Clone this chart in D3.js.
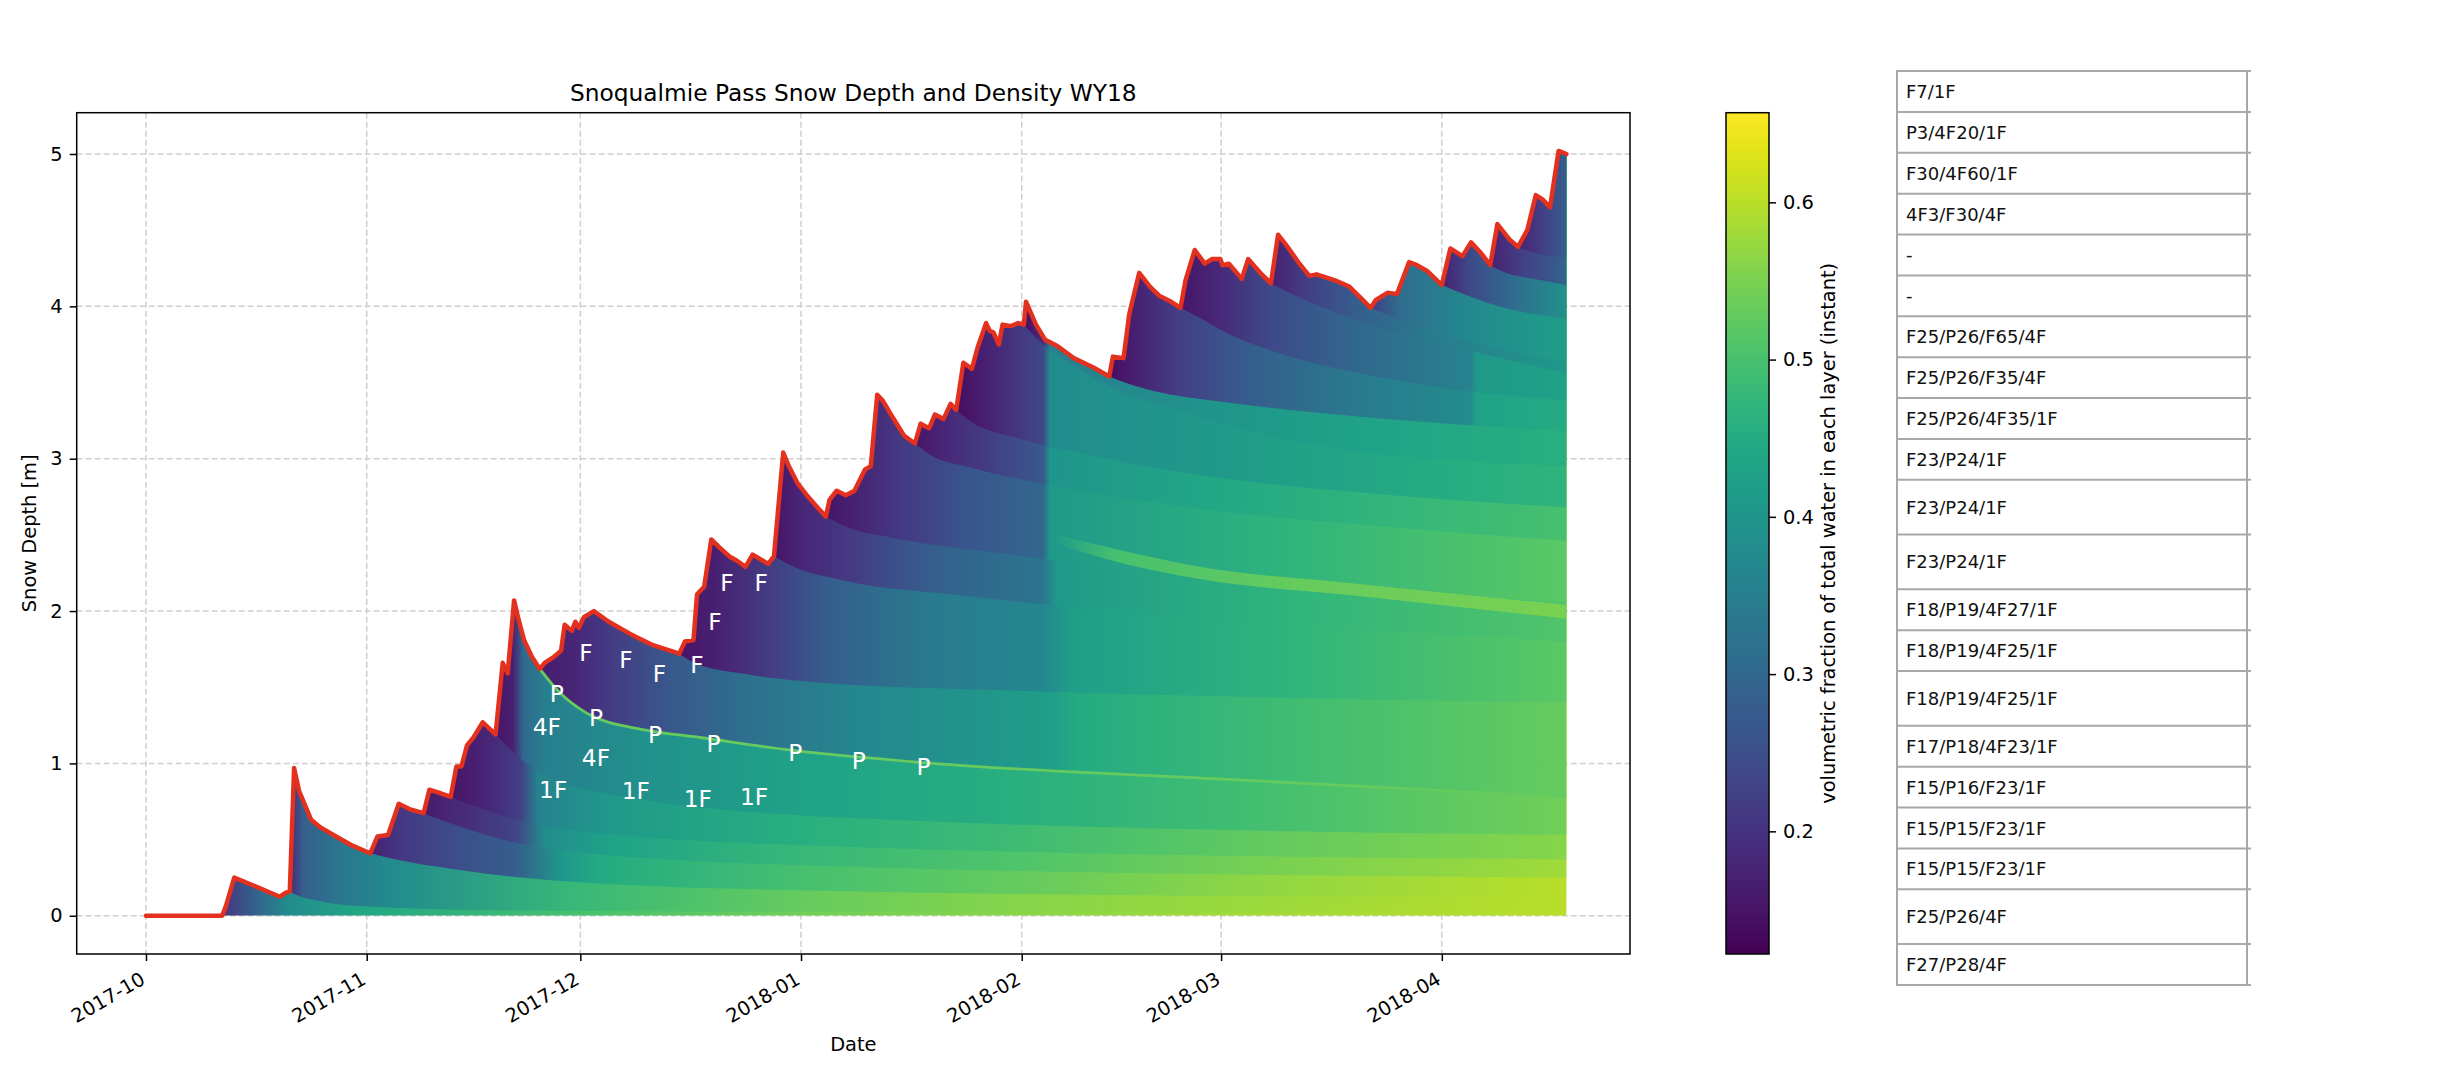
<!DOCTYPE html>
<html>
<head>
<meta charset="utf-8">
<script src="https://cdn.jsdelivr.net/npm/d3@7"></script>
<style>
  body { margin: 0; background: #fff; }
  svg { display: block; }
  text { font-family: "DejaVu Sans", sans-serif; }
</style>
</head>
<body>
<svg id="chart"></svg>
<script>
// ---- data (days since 2017-10-01, depth in m, water fraction) ----
var snowDepth = [[0,0],[10.7,0],[11.2,0.06],[12.4,0.25],[15,0.2],[18.8,0.125],[19.6,0.15],[20.2,0.16],[20.8,0.97],
  [21.5,0.82],[23.2,0.63],[24.5,0.58],[26.7,0.52],[29,0.46],[31.5,0.41],[32.5,0.52],[34,0.53],[35.5,0.735],[37,0.7],
  [39,0.674],[39.8,0.827],[41,0.81],[42.8,0.78],[43.6,0.98],[44.3,0.98],[45.1,1.12],[46,1.17],[47.3,1.27],[48.2,1.23],
  [49.1,1.19],[50.1,1.66],[50.8,1.59],[51.7,2.07],[52.3,1.95],[53.1,1.81],[54.2,1.7],[55.3,1.62],[56,1.66],[57.3,1.7],
  [58.3,1.74],[58.8,1.91],[59.8,1.87],[60.3,1.93],[60.8,1.89],[61.5,1.96],[62.9,2.0],[65,1.93],[68,1.85],[71,1.78],
  [74.9,1.72],[75.7,1.8],[76.9,1.81],[77.4,2.11],[78.4,2.16],[79.4,2.47],[80.5,2.42],[81.9,2.36],[83,2.33],[84.2,2.29],
  [85.2,2.37],[86.3,2.34],[87.4,2.31],[88.2,2.36],[89.5,3.04],[90.3,2.95],[91.5,2.84],[93,2.75],[94.5,2.67],[95.5,2.62],
  [96,2.73],[97,2.79],[98.3,2.76],[99.5,2.79],[101,2.93],[101.8,2.95],[102.7,3.42],[103.5,3.38],[104.5,3.3],[106.5,3.15],
  [108,3.1],[108.8,3.23],[110,3.2],[110.8,3.29],[112,3.26],[113,3.36],[113.8,3.32],[114.8,3.63],[116,3.59],[116.8,3.73],
  [118,3.89],[118.5,3.84],[119,3.83],[119.8,3.75],[120.3,3.88],[121.5,3.87],[122.5,3.89],[123.3,3.88],[123.6,4.03],
  [125,3.88],[126.3,3.78],[128,3.74],[130.3,3.66],[133,3.6],[135.3,3.54],[135.8,3.67],[137.3,3.66],[138.1,3.95],
  [139.5,4.22],[141,4.13],[142.3,4.07],[144,4.03],[145.3,3.99],[146,4.17],[147.3,4.37],[148.7,4.28],[149.7,4.31],
  [150.9,4.31],[151.2,4.27],[152.1,4.28],[153.9,4.18],[154.8,4.31],[156.5,4.22],[158,4.15],[159,4.47],[160.5,4.38],
  [162,4.28],[163.4,4.2],[164.4,4.21],[167,4.17],[169,4.13],[170.5,4.06],[172,3.99],[172.7,4.04],[174.4,4.09],
  [175.7,4.08],[177.4,4.29],[178.5,4.27],[180,4.23],[182,4.14],[183.2,4.38],[184.9,4.33],[186.1,4.42],[187.5,4.35],
  [188.8,4.27],[189.8,4.54],[191.5,4.44],[192.7,4.39],[194,4.5],[195.2,4.73],[196.2,4.7],[197.2,4.65],[198.4,5.02],[199.5,5.0]];

// layer base heights (old snow surfaces) and their water fraction through time
var baseGround = [[10.7,0],[199.5,0]];
var fracGround = [[10.7,0.2],[16,0.3],[20,0.38],[30,0.44],[60,0.5],[92,0.54],[150,0.58],[199.5,0.6]];
var baseOct20 = [[20.2,0.16],[21,0.14],[24,0.1],[31,0.06],[50,0.035],[100,0.025],[199.5,0.02]];
var fracOct20 = [[20.2,0.18],[22,0.28],[27,0.33],[35,0.38],[60,0.48],[92,0.53],[123,0.56],[199.5,0.6]];
var baseOct31 = [[31.5,0.41],[34,0.38],[44,0.3],[64,0.21],[100,0.16],[150,0.13],[199.5,0.12]];
var fracOct31 = [[31.5,0.17],[36,0.21],[44,0.25],[52,0.28],[58,0.4],[64,0.45],[92,0.5],[123,0.53],[160,0.57],[199.5,0.6]];
var baseNov8 = [[39,0.67],[42,0.62],[50,0.5],[60,0.42],[100,0.32],[199.5,0.25]];
var fracNov8 = [[39,0.16],[45,0.19],[52,0.23],[56,0.38],[65,0.43],[92,0.48],[123,0.51],[160,0.55],[199.5,0.58]];
var baseNov12 = [[42.8,0.78],[45,0.74],[50,0.66],[60,0.56],[100,0.45],[199.5,0.37]];
var fracNov12 = [[42.8,0.15],[48,0.18],[52.5,0.22],[55,0.36],[65,0.41],[92,0.46],[123,0.49],[160,0.53],[199.5,0.56]];
var baseNov18 = [[49.1,1.19],[51,1.1],[55,0.95],[65,0.8],[100,0.64],[199.5,0.53]];
var fracNov18 = [[49.1,0.15],[51.5,0.17],[53,0.3],[56,0.35],[70,0.39],[92,0.43],[123,0.46],[160,0.5],[199.5,0.54]];
var baseNov25 = [[55.3,1.62],[58,1.47],[61.9,1.33],[70,1.22],[77.8,1.17],[90,1.09],[110.5,1.0],[150,0.9],[199.5,0.78]];
var fracNov25 = [[55.3,0.16],[60,0.18],[66,0.22],[74,0.27],[85,0.32],[100,0.37],[127,0.42],[131,0.45],[160,0.49],[199.5,0.53]];
var baseDec15 = [[74.9,1.72],[77,1.66],[85,1.58],[95,1.53],[120,1.48],[160,1.43],[199.5,1.4]];
var fracDec15 = [[74.9,0.15],[80,0.17],[88,0.22],[96,0.28],[110,0.34],[126,0.37],[130,0.42],[160,0.47],[199.5,0.52]];
var baseDec28 = [[88.2,2.36],[91,2.29],[98,2.2],[115,2.1],[140,1.98],[170,1.88],[199.5,1.8]];
var fracDec28 = [[88.2,0.15],[92,0.18],[100,0.22],[110,0.28],[126,0.33],[128,0.41],[160,0.47],[199.5,0.51]];
var baseJan5 = [[95.5,2.62],[98,2.56],[105,2.48],[120,2.38],[140,2.26],[170,2.14],[199.5,2.06]];
var fracJan5 = [[95.5,0.15],[99,0.17],[106,0.21],[115,0.26],[126,0.3],[127,0.41],[160,0.47],[199.5,0.52]];
var baseJan18 = [[108,3.1],[110,3.03],[116,2.94],[130,2.8],[150,2.66],[175,2.55],[199.5,2.46]];
var fracJan18 = [[108,0.15],[112,0.18],[120,0.23],[126,0.27],[127,0.4],[150,0.44],[180,0.48],[199.5,0.5]];
var baseJan23 = [[113.8,3.32],[116,3.24],[122,3.14],[135,3.0],[150,2.88],[175,2.76],[199.5,2.68]];
var fracJan23 = [[113.8,0.14],[118,0.17],[124,0.22],[126,0.24],[127,0.38],[150,0.41],[180,0.45],[199.5,0.47]];
var baseFeb1 = [[123.3,3.88],[126,3.75],[130,3.62],[136,3.46],[146,3.3],[163,3.1],[199.5,2.95]];
var fracFeb1 = [[123.3,0.14],[126,0.19],[127,0.35],[136,0.37],[150,0.4],[170,0.43],[199.5,0.46]];
var baseFeb13 = [[135.3,3.54],[137.5,3.5],[142,3.44],[150,3.38],[165,3.3],[180,3.24],[199.5,3.18]];
var fracFeb13 = [[135.3,0.14],[139,0.17],[145,0.22],[155,0.28],[170,0.34],[186,0.38],[187,0.43],[199.5,0.45]];
var baseFeb23 = [[145.3,3.99],[147,3.95],[152,3.82],[160,3.68],[175,3.52],[199.5,3.38]];
var fracFeb23 = [[145.3,0.15],[150,0.18],[158,0.24],[170,0.3],[186,0.36],[187,0.41],[199.5,0.43]];
var baseMar8 = [[158,4.15],[161,4.08],[166,3.98],[172,3.88],[185,3.72],[199.5,3.56]];
var fracMar8 = [[158,0.17],[163,0.22],[170,0.28],[180,0.34],[199.5,0.41]];
var baseMar22 = [[172,3.99],[174,3.95],[180,3.85],[190,3.72],[199.5,3.64]];
var fracMar22 = [[172,0.22],[176,0.31],[185,0.37],[199.5,0.42]];
var baseApr1 = [[182,4.14],[184,4.1],[190,4.0],[199.5,3.92]];
var fracApr1 = [[182,0.17],[186,0.24],[192,0.31],[199.5,0.39]];
var baseApr7 = [[188.8,4.27],[191,4.22],[195,4.18],[199.5,4.14]];
var fracApr7 = [[188.8,0.17],[193,0.22],[199.5,0.29]];
var baseApr11 = [[192.7,4.39],[195,4.35],[199.5,4.32]];
var fracApr11 = [[192.7,0.17],[196,0.22],[199.5,0.28]];

// wet band after the early February rain: day, bottom, top
var wetBand = [[128,2.44,2.5],[135,2.34,2.42],[148,2.21,2.29],[170,2.1,2.18],[199.5,1.95,2.04]];
var fracWetBand = [[128,0.42],[136,0.5],[160,0.53],[199.5,0.55]];
var crustFraction = 0.53;   // the thin "P" crust line (baseNov25)

// hand-typed annotations
var annText  = ["F","F","F","F","F","F","F","P","P","P","P","P","P","P","4F","4F","1F","1F","1F","1F"];
var annDay   = [61.8,67.4,72.1,77.4,79.9,81.6,86.4,57.7,63.2,71.5,79.7,91.2,100.1,109.2,56.3,63.2,57.2,68.8,77.5,85.4];
var annDepth = [1.73,1.68,1.59,1.65,1.93,2.19,2.19,1.46,1.30,1.19,1.13,1.07,1.02,0.98,1.24,1.04,0.83,0.82,0.77,0.78];

var yTicks = [0,1,2,3,4,5];
var cbarTicks = [0.2,0.3,0.4,0.5,0.6];
var cbarRange = [0.122,0.657];

var tableRows = ["F7/1F","P3/4F20/1F","F30/4F60/1F","4F3/F30/4F","-","-","F25/P26/F65/4F","F25/P26/F35/4F",
  "F25/P26/4F35/1F","F23/P24/1F","F23/P24/1F","F23/P24/1F","F18/P19/4F27/1F","F18/P19/4F25/1F","F18/P19/4F25/1F",
  "F17/P18/4F23/1F","F15/P16/F23/1F","F15/P15/F23/1F","F15/P15/F23/1F","F25/P26/4F","F27/P28/4F"];

// ---- layout ----
var svgWidth = 2454, svgHeight = 1090;
var plot = { left: 76.7, right: 1630, top: 112.7, bottom: 954 };
var cbar = { left: 1726, width: 43 };
var table = { left: 1897, right: 2247, top: 71, bottom: 985, tallRows: [10, 11, 14, 19], tallFactor: 1.34 };

var day0 = Date.UTC(2017, 9, 1);
var toDate = d => new Date(day0 + d * 864e5);

var svg = d3.select("#chart").attr("width", svgWidth).attr("height", svgHeight);
var defs = svg.append("defs");

var x = d3.scaleUtc().domain([toDate(-9.73), toDate(208.43)]).range([plot.left, plot.right]);
var y = d3.scaleLinear().domain([-0.251, 5.271]).range([plot.bottom, plot.top]);
var color = d3.scaleSequential(d3.interpolateViridis).domain(cbarRange);
var xd = d => x(toDate(d));

var monthTicks = x.ticks(d3.utcMonth.every(1));

// grid
var grid = svg.append("g").attr("stroke", "#cfcfcf").attr("stroke-width", 1.5).attr("stroke-dasharray", "6,3");
grid.selectAll(".gx").data(monthTicks).join("line")
  .attr("x1", d => x(d)).attr("x2", d => x(d)).attr("y1", plot.top).attr("y2", plot.bottom);
grid.selectAll(".gy").data(yTicks).join("line")
  .attr("x1", plot.left).attr("x2", plot.right).attr("y1", d => y(d)).attr("y2", d => y(d));

// snowpack clip
defs.append("clipPath").attr("id", "snowClip").append("path")
  .attr("d", d3.area().x(d => xd(d[0])).y0(y(0)).y1(d => y(d[1]))(snowDepth));

var heat = svg.append("g").attr("clip-path", "url(#snowClip)");

var layers = [
  [baseGround, fracGround], [baseOct20, fracOct20], [baseOct31, fracOct31], [baseNov8, fracNov8],
  [baseNov12, fracNov12], [baseNov18, fracNov18], [baseNov25, fracNov25], [baseDec15, fracDec15],
  [baseDec28, fracDec28], [baseJan5, fracJan5], [baseJan18, fracJan18], [baseJan23, fracJan23],
  [baseFeb1, fracFeb1], [baseFeb13, fracFeb13], [baseFeb23, fracFeb23], [baseMar8, fracMar8],
  [baseMar22, fracMar22], [baseApr1, fracApr1], [baseApr7, fracApr7], [baseApr11, fracApr11]
];

function timeGradient(id, series, d0, d1) {
  var grad = defs.append("linearGradient").attr("id", id)
    .attr("gradientUnits", "userSpaceOnUse")
    .attr("x1", xd(d0)).attr("x2", xd(d1)).attr("y1", 0).attr("y2", 0);
  grad.selectAll("stop").data(series).join("stop")
    .attr("offset", d => (d[0] - d0) / (d1 - d0))
    .attr("stop-color", d => color(d[1]));
}

// each layer paints from its base up to the top; newer layers cover older ones
layers.forEach(([base, frac], i) => {
  var d0 = base[0][0], d1 = base[base.length - 1][0];
  timeGradient("layer" + i, frac, d0, d1);
  heat.append("path")
    .attr("d", d3.area().x(d => xd(d[0])).y0(d => y(d[1])).y1(y(5.271)).curve(d3.curveMonotoneX)(base))
    .attr("fill", `url(#layer${i})`);
});

timeGradient("wetband", fracWetBand, wetBand[0][0], wetBand[wetBand.length - 1][0]);
heat.append("path")
  .attr("d", d3.area().x(d => xd(d[0])).y0(d => y(d[1])).y1(d => y(d[2])).curve(d3.curveMonotoneX)(wetBand))
  .attr("fill", "url(#wetband)");

heat.append("path")
  .attr("d", d3.line().x(d => xd(d[0])).y(d => y(d[1])).curve(d3.curveMonotoneX)(baseNov25))
  .attr("fill", "none").attr("stroke", color(crustFraction)).attr("stroke-width", 2.8);

// snow depth line
svg.append("path")
  .attr("d", d3.line().x(d => xd(d[0])).y(d => y(d[1]))(snowDepth))
  .attr("fill", "none").attr("stroke", "#e3311f").attr("stroke-width", 4.5)
  .attr("stroke-linejoin", "round").attr("stroke-linecap", "round");

// annotations
svg.append("g").selectAll("text").data(annText).join("text")
  .attr("x", (d, i) => xd(annDay[i])).attr("y", (d, i) => y(annDepth[i]))
  .attr("text-anchor", "middle").attr("dominant-baseline", "central")
  .attr("fill", "#fff").attr("font-size", "23.3px")
  .text(d => d);

// axes
var xAxis = svg.append("g").attr("transform", `translate(0,${plot.bottom})`)
  .call(d3.axisBottom(x).tickValues(monthTicks).tickFormat(d3.utcFormat("%Y-%m")).tickSize(7));
xAxis.selectAll("text")
  .attr("x", 0).attr("y", 0).attr("dy", null)
  .attr("text-anchor", "end")
  .attr("transform", "translate(0,29) rotate(-30)");

var yAxis = svg.append("g").attr("transform", `translate(${plot.left},0)`)
  .call(d3.axisLeft(y).tickValues(yTicks).tickFormat(d3.format("d")).tickSize(7).tickPadding(7));

[xAxis, yAxis].forEach(a => {
  a.select(".domain").remove();
  a.attr("font-family", "DejaVu Sans").attr("font-size", "19.4px");
  a.selectAll("line").attr("stroke", "#000").attr("stroke-width", 1.5);
  a.selectAll("text").attr("fill", "#000");
});

svg.append("rect")
  .attr("x", plot.left).attr("y", plot.top)
  .attr("width", plot.right - plot.left).attr("height", plot.bottom - plot.top)
  .attr("fill", "none").attr("stroke", "#000").attr("stroke-width", 1.5);

svg.append("text").attr("x", (plot.left + plot.right) / 2).attr("y", 101)
  .attr("text-anchor", "middle").attr("font-size", "23.3px")
  .text("Snoqualmie Pass Snow Depth and Density WY18");

svg.append("text").attr("x", (plot.left + plot.right) / 2).attr("y", 1051)
  .attr("text-anchor", "middle").attr("font-size", "19.4px").text("Date");

svg.append("text")
  .attr("transform", `translate(29,${(plot.top + plot.bottom) / 2}) rotate(-90)`)
  .attr("text-anchor", "middle").attr("dominant-baseline", "central")
  .attr("font-size", "19.4px").text("Snow Depth [m]");

// colorbar
var cgrad = defs.append("linearGradient").attr("id", "cbarGrad")
  .attr("x1", 0).attr("y1", 1).attr("x2", 0).attr("y2", 0);
cgrad.selectAll("stop").data(d3.range(0, 1.0001, 0.05)).join("stop")
  .attr("offset", d => d)
  .attr("stop-color", d => color(cbarRange[0] + d * (cbarRange[1] - cbarRange[0])));

svg.append("rect")
  .attr("x", cbar.left).attr("y", plot.top)
  .attr("width", cbar.width).attr("height", plot.bottom - plot.top)
  .attr("fill", "url(#cbarGrad)").attr("stroke", "#000").attr("stroke-width", 1.5);

var cy = d3.scaleLinear().domain(cbarRange).range([plot.bottom, plot.top]);
var cAxis = svg.append("g").attr("transform", `translate(${cbar.left + cbar.width},0)`)
  .call(d3.axisRight(cy).tickValues(cbarTicks).tickFormat(d3.format(".1f")).tickSize(7).tickPadding(7));
cAxis.select(".domain").remove();
cAxis.attr("font-family", "DejaVu Sans").attr("font-size", "19.4px");
cAxis.selectAll("line").attr("stroke", "#000").attr("stroke-width", 1.5);
cAxis.selectAll("text").attr("fill", "#000");

svg.append("text")
  .attr("transform", `translate(1828.5,${(plot.top + plot.bottom) / 2}) rotate(-90)`)
  .attr("text-anchor", "middle").attr("dominant-baseline", "central")
  .attr("font-size", "19.4px")
  .text("volumetric fraction of total water in each layer (instant)");

// layer table
var weights = tableRows.map((r, i) => table.tallRows.includes(i) ? table.tallFactor : 1);
var unit = (table.bottom - table.top) / d3.sum(weights);
var edges = [table.top];
weights.forEach(w => edges.push(edges[edges.length - 1] + w * unit));

var tg = svg.append("g");
tg.selectAll(".hl").data(edges).join("line")
  .attr("x1", table.left - 1).attr("x2", table.right + 4)
  .attr("y1", d => d).attr("y2", d => d)
  .attr("stroke", "#a8a8a8").attr("stroke-width", 2);
tg.selectAll(".vl").data([table.left, table.right]).join("line")
  .attr("x1", d => d).attr("x2", d => d)
  .attr("y1", table.top).attr("y2", table.bottom + 1)
  .attr("stroke", "#a8a8a8").attr("stroke-width", 2);
tg.selectAll("text").data(tableRows).join("text")
  .attr("x", table.left + 9)
  .attr("y", (d, i) => (edges[i] + edges[i + 1]) / 2)
  .attr("dominant-baseline", "central")
  .attr("font-size", "18px").attr("fill", "#111")
  .text(d => d);
</script>
</body>
</html>
